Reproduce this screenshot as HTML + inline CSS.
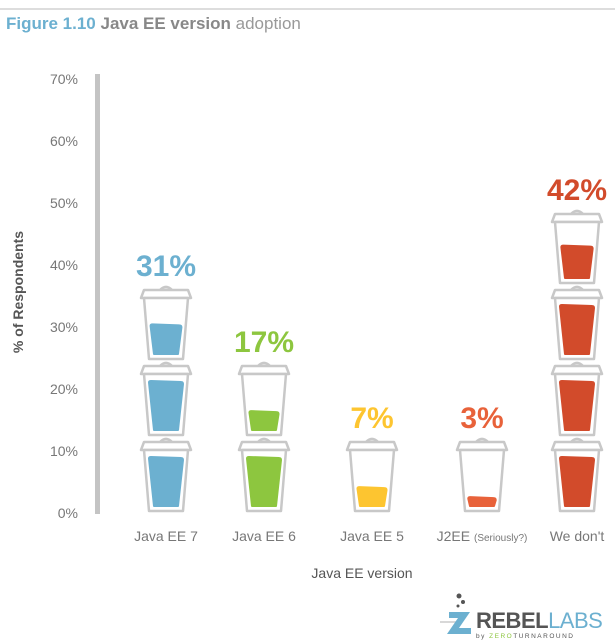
<!DOCTYPE html>
<html><head><meta charset="utf-8"><style>
body{margin:0;background:#fff;}
svg{display:block;font-family:"Liberation Sans",sans-serif;}
</style></head><body>
<svg id="c" width="615" height="640">
<line x1="0" y1="9" x2="615" y2="9" stroke="#ddd" stroke-width="2"/>
<text x="6" y="29" font-size="17" font-weight="bold"><tspan fill="#6cb0d0">Figure 1.10</tspan><tspan fill="#888"> Java EE version</tspan><tspan fill="#999" font-weight="normal"> adoption</tspan></text>
<rect x="95" y="74" width="5" height="440" fill="#c4c4c4"/>
<text transform="translate(23,292) rotate(-90)" text-anchor="middle" font-size="14" font-weight="bold" fill="#555">% of Respondents</text>
<text x="362" y="578" text-anchor="middle" font-size="14" fill="#555">Java EE version</text>
<g id="ticks"></g><g id="cups"></g>
<line x1="440" y1="622" x2="462" y2="622" stroke="#ccc" stroke-width="1.5"/>
<g>
<circle cx="459" cy="596" r="2.5" fill="#555"/><circle cx="463" cy="602" r="2" fill="#555"/><circle cx="458" cy="606" r="1.5" fill="#555"/>
<path d="M449 612 L470 612 L459 628 L471 628 L471 634 L447 634 L458 618 L449 618 Z" fill="#6cb0d0"/>
<text x="476" y="628" font-size="22" font-weight="bold" fill="#555" letter-spacing="-0.5">REBEL<tspan fill="#6cb0d0" font-weight="normal">LABS</tspan></text>
<text x="476" y="638" font-size="6.5" fill="#555" letter-spacing="1.5">by <tspan fill="#8dc63f">ZERO</tspan>TURNAROUND</text>
</g>
</svg>
<script>
const categories=["Java EE 7","Java EE 6","Java EE 5","J2EE (Seriously?)","We don't"];
const values=[31,17,7,3,42];
const colors=["#6cb0d0","#8dc63f","#fdc530","#e8623a","#d24b2b"];
const tickValues=[0,10,20,30,40,50,60,70];
const tickLabels=["0%","10%","20%","30%","40%","50%","60%","70%"];
const centers=[166,264,372,482,577];
const NS="http://www.w3.org/2000/svg";
function y(v){return 513-v*6.2;}
function mk(t,a,p){const e=document.createElementNS(NS,t);for(const k in a)e.setAttribute(k,a[k]);p.appendChild(e);return e;}
const tg=document.getElementById('ticks');
tickValues.forEach((v,i)=>{
 const t=mk('text',{x:78,y:y(v)+5,'text-anchor':'end','font-size':14,fill:'#777'},tg);
 
 
 t.textContent=tickLabels[i];
});
const cg=document.getElementById('cups');
function cup(cx,bot,fill,color,g){
 mk('path',{d:`M${cx-6} ${bot-69} Q${cx} ${bot-75} ${cx+6} ${bot-69}`,fill:'#fff',stroke:'#c8c8c8','stroke-width':2.5},g);
 mk('path',{d:`M${cx-22} ${bot-69} L${cx+22} ${bot-69} L${cx+25} ${bot-61} L${cx-25} ${bot-61} Z`,fill:'#fff',stroke:'#c8c8c8','stroke-width':2.5,'stroke-linejoin':'round'},g);
 mk('path',{d:`M${cx-22} ${bot-61} L${cx+22} ${bot-61} L${cx+17} ${bot} L${cx-17} ${bot} Z`,fill:'#fff',stroke:'#c8c8c8','stroke-width':2.5,'stroke-linejoin':'round'},g);
 if(fill>0){const h=49*fill;const top=bot-5-h;
  const wt=13+4*fill;
  mk('path',{d:`M${cx-12} ${bot-5} L${cx-wt} ${top+1.5} Q${cx-wt} ${top} ${cx-wt+2} ${top} L${cx+wt-2} ${top+1} Q${cx+wt} ${top+1} ${cx+wt} ${top+3} L${cx+12} ${bot-5} Z`,fill:color,stroke:color,'stroke-width':2,'stroke-linejoin':'round'},g);}
}
categories.forEach((c,i)=>{
 const v=values[i],cx=centers[i];
 const g=mk('g',{},cg);
 
 
 const n=Math.max(1,Math.round(v/10));
 let top=Math.min(0.85,Math.max(0.18,(v-10*(n-1))/10*0.55));
 for(let k=0;k<n;k++){cup(cx,511-k*76,k<n-1?1:top,colors[i],g);}
 const lbl=mk('text',{x:cx,y:511-(n-1)*76-83,'text-anchor':'middle','font-size':30,'font-weight':'bold',fill:colors[i]},g);
 
 
 lbl.textContent=v+'%';
 const xl=mk('text',{x:cx,y:541,'text-anchor':'middle','font-size':14,fill:'#777'},cg);
 
 
 if(c.indexOf('(')>0){xl.innerHTML='J2EE <tspan font-size="10">(Seriously?)</tspan>';}else xl.textContent=c;
});
</script>
</body></html>
